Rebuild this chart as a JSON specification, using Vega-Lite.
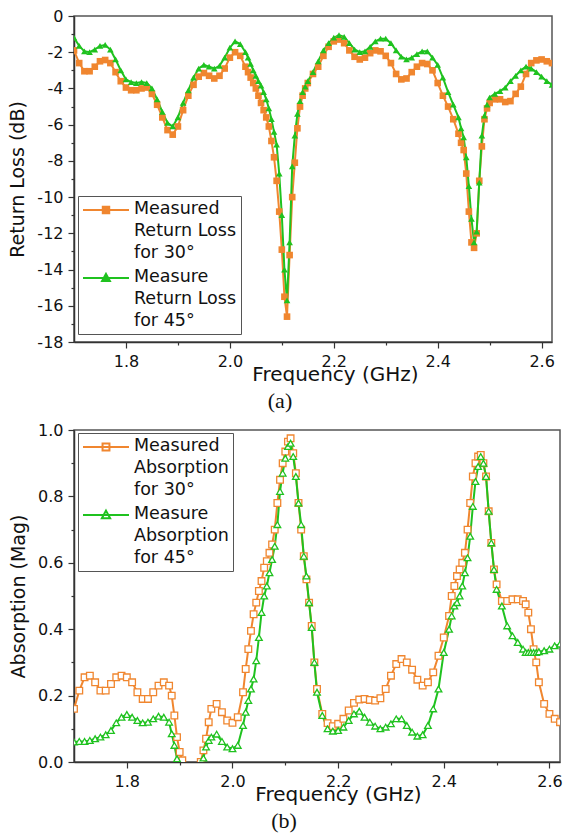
{
  "$schema": "https://vega.github.io/schema/vega-lite/v6.json",
  "padding": {"left": 8, "top": 7, "right": 5, "bottom": 5},
  "background": "white",
  "spacing": 8,
  "resolve": {"scale": {"color": "independent", "shape": "independent"}, "legend": {"color": "independent", "shape": "independent"}},
  "config": {
    "view": {"stroke": "#555", "strokeWidth": 1.5},
    "font": "DejaVu Sans",
    "axis": {
      "labelFont": "DejaVu Sans", "labelFontSize": 16, "labelColor": "#111",
      "titleFont": "DejaVu Sans", "titleFontWeight": "normal", "titleColor": "#111",
      "domainColor": "#333", "domainWidth": 1.5, "tickColor": "#333", "tickWidth": 1.2,
      "grid": false, "labelOverlap": false, "labelPadding": 5
    },
    "legend": {"labelFont": "DejaVu Sans", "labelFontSize": 17.5, "labelColor": "#111"},
    "title": {"font": "Liberation Serif", "fontSize": 22, "fontWeight": "normal", "color": "#111"}
  },
  "datasets": {
    "rl": [
      {"f":1.70,"a":-1.9,"b":-1.2},{"f":1.71,"a":-2.6,"b":-1.65},{"f":1.72,"a":-3.05,"b":-1.95},{"f":1.73,"a":-3.05,"b":-2.0},
      {"f":1.74,"a":-2.8,"b":-1.85},{"f":1.75,"a":-2.5,"b":-1.65},{"f":1.76,"a":-2.43,"b":-1.6},{"f":1.77,"a":-2.6,"b":-1.85},
      {"f":1.78,"a":-3.1,"b":-2.4},{"f":1.79,"a":-3.6,"b":-3.0},{"f":1.80,"a":-3.95,"b":-3.5},{"f":1.81,"a":-4.1,"b":-3.65},
      {"f":1.82,"a":-4.1,"b":-3.7},{"f":1.83,"a":-4.0,"b":-3.65},{"f":1.84,"a":-3.95,"b":-3.7},{"f":1.85,"a":-4.3,"b":-4.0},
      {"f":1.86,"a":-4.9,"b":-4.6},{"f":1.87,"a":-5.6,"b":-5.3},{"f":1.88,"a":-6.3,"b":-5.9},{"f":1.89,"a":-6.55,"b":-6.1},
      {"f":1.90,"a":-6.1,"b":-5.6},{"f":1.91,"a":-5.2,"b":-4.8},{"f":1.92,"a":-4.4,"b":-4.1},{"f":1.93,"a":-3.8,"b":-3.4},
      {"f":1.94,"a":-3.35,"b":-2.9},{"f":1.95,"a":-3.15,"b":-2.7},{"f":1.96,"a":-3.3,"b":-2.8},{"f":1.97,"a":-3.45,"b":-2.9},
      {"f":1.98,"a":-3.3,"b":-2.75},{"f":1.99,"a":-2.9,"b":-2.3},{"f":2.00,"a":-2.3,"b":-1.75},{"f":2.01,"a":-2.0,"b":-1.4},
      {"f":2.02,"a":-2.2,"b":-1.55},{"f":2.03,"a":-2.8,"b":-2.0},{"f":2.035,"a":-3.1,"b":-2.3},{"f":2.04,"a":-3.4,"b":-2.65},
      {"f":2.045,"a":-3.7,"b":-3.0},{"f":2.05,"a":-4.0,"b":-3.3},{"f":2.055,"a":-4.4,"b":-3.6},{"f":2.06,"a":-4.8,"b":-3.85},
      {"f":2.065,"a":-5.2,"b":-4.2},{"f":2.07,"a":-5.6,"b":-4.6},{"f":2.075,"a":-6.1,"b":-5.1},{"f":2.08,"a":-6.9,"b":-5.7},
      {"f":2.085,"a":-7.8,"b":-6.4},{"f":2.09,"a":-9.1,"b":-7.1},{"f":2.095,"a":-10.8,"b":-8.7},{"f":2.10,"a":-12.9,"b":-11.0},
      {"f":2.105,"a":-15.5,"b":-14.0},{"f":2.11,"a":-16.6,"b":-15.7},{"f":2.115,"a":-13.2,"b":-12.5},{"f":2.12,"a":-10.0,"b":-8.3},
      {"f":2.125,"a":-8.1,"b":-6.6},{"f":2.13,"a":-6.2,"b":-5.4},{"f":2.135,"a":-5.0,"b":-4.7},{"f":2.14,"a":-4.4,"b":-4.2},
      {"f":2.145,"a":-4.0,"b":-3.9},{"f":2.15,"a":-3.7,"b":-3.6},{"f":2.16,"a":-3.2,"b":-3.1},{"f":2.17,"a":-2.8,"b":-2.5},
      {"f":2.18,"a":-2.2,"b":-1.9},{"f":2.19,"a":-1.7,"b":-1.5},{"f":2.20,"a":-1.4,"b":-1.2},{"f":2.21,"a":-1.3,"b":-1.05},
      {"f":2.22,"a":-1.5,"b":-1.15},{"f":2.23,"a":-1.9,"b":-1.5},{"f":2.24,"a":-2.25,"b":-1.85},{"f":2.25,"a":-2.4,"b":-2.0},
      {"f":2.26,"a":-2.3,"b":-1.95},{"f":2.27,"a":-2.05,"b":-1.7},{"f":2.28,"a":-1.9,"b":-1.4},{"f":2.29,"a":-1.95,"b":-1.25},
      {"f":2.30,"a":-2.2,"b":-1.25},{"f":2.31,"a":-2.6,"b":-1.5},{"f":2.32,"a":-3.2,"b":-1.9},{"f":2.33,"a":-3.5,"b":-2.25},
      {"f":2.34,"a":-3.45,"b":-2.4},{"f":2.35,"a":-3.1,"b":-2.3},{"f":2.36,"a":-2.8,"b":-2.1},{"f":2.37,"a":-2.6,"b":-1.95},
      {"f":2.38,"a":-2.65,"b":-1.95},{"f":2.39,"a":-3.0,"b":-2.3},{"f":2.40,"a":-3.7,"b":-2.7},{"f":2.41,"a":-4.4,"b":-3.4},
      {"f":2.42,"a":-5.0,"b":-4.2},{"f":2.43,"a":-5.7,"b":-4.9},{"f":2.44,"a":-6.5,"b":-5.6},{"f":2.445,"a":-7.0,"b":-6.2},
      {"f":2.45,"a":-7.4,"b":-6.7},{"f":2.455,"a":-8.7,"b":-7.8},{"f":2.46,"a":-10.8,"b":-9.4},{"f":2.465,"a":-12.5,"b":-11.2},
      {"f":2.47,"a":-12.8,"b":-12.5},{"f":2.475,"a":-12.0,"b":-11.9},{"f":2.48,"a":-9.1,"b":-9.2},{"f":2.485,"a":-7.2,"b":-6.6},
      {"f":2.49,"a":-5.7,"b":-5.5},{"f":2.495,"a":-5.1,"b":-4.9},{"f":2.50,"a":-4.8,"b":-4.5},{"f":2.51,"a":-4.6,"b":-4.3},
      {"f":2.52,"a":-4.6,"b":-4.15},{"f":2.53,"a":-4.75,"b":-3.95},{"f":2.54,"a":-4.7,"b":-3.6},{"f":2.55,"a":-4.3,"b":-3.3},
      {"f":2.56,"a":-3.9,"b":-3.0},{"f":2.57,"a":-3.2,"b":-2.8},{"f":2.58,"a":-2.6,"b":-2.9},{"f":2.59,"a":-2.45,"b":-3.1},
      {"f":2.60,"a":-2.4,"b":-3.35},{"f":2.61,"a":-2.5,"b":-3.6},{"f":2.62,"a":-2.6,"b":-3.8}
    ],
    "ab": [
      {"f":1.70,"a":0.16,"b":0.06},{"f":1.71,"a":0.215,"b":0.062},{"f":1.72,"a":0.255,"b":0.062},{"f":1.73,"a":0.26,"b":0.065},
      {"f":1.74,"a":0.24,"b":0.07},{"f":1.75,"a":0.215,"b":0.075},{"f":1.76,"a":0.215,"b":0.082},{"f":1.77,"a":0.235,"b":0.095},
      {"f":1.78,"a":0.255,"b":0.118},{"f":1.79,"a":0.26,"b":0.135},{"f":1.80,"a":0.255,"b":0.143},{"f":1.81,"a":0.24,"b":0.135},
      {"f":1.82,"a":0.21,"b":0.125},{"f":1.83,"a":0.19,"b":0.118},{"f":1.84,"a":0.19,"b":0.12},{"f":1.85,"a":0.21,"b":0.13},
      {"f":1.86,"a":0.23,"b":0.138},{"f":1.87,"a":0.24,"b":0.135},{"f":1.88,"a":0.23,"b":0.12},{"f":1.885,"a":0.2,"b":0.085},
      {"f":1.89,"a":0.14,"b":0.05},{"f":1.895,"a":0.075,"b":0.01},{"f":1.90,"a":0.03,"b":-0.04},{"f":1.905,"a":0.005,"b":-0.07},
      {"f":1.91,"a":-0.05,"b":-0.1},{"f":1.92,"a":-0.1,"b":-0.12},{"f":1.93,"a":-0.08,"b":-0.12},{"f":1.94,"a":0.0,"b":-0.04},
      {"f":1.945,"a":0.035,"b":0.012},{"f":1.95,"a":0.07,"b":0.045},{"f":1.955,"a":0.12,"b":0.065},{"f":1.96,"a":0.16,"b":0.075},
      {"f":1.97,"a":0.175,"b":0.084},{"f":1.98,"a":0.15,"b":0.062},{"f":1.99,"a":0.125,"b":0.045},{"f":2.00,"a":0.118,"b":0.04},
      {"f":2.01,"a":0.135,"b":0.05},{"f":2.02,"a":0.21,"b":0.11},{"f":2.025,"a":0.28,"b":0.15},{"f":2.03,"a":0.34,"b":0.185},
      {"f":2.035,"a":0.395,"b":0.22},{"f":2.04,"a":0.445,"b":0.25},{"f":2.045,"a":0.48,"b":0.305},{"f":2.05,"a":0.515,"b":0.375},
      {"f":2.055,"a":0.545,"b":0.45},{"f":2.06,"a":0.585,"b":0.5},{"f":2.065,"a":0.605,"b":0.53},{"f":2.07,"a":0.63,"b":0.57},
      {"f":2.075,"a":0.655,"b":0.61},{"f":2.08,"a":0.7,"b":0.65},{"f":2.085,"a":0.78,"b":0.715},{"f":2.09,"a":0.85,"b":0.815},
      {"f":2.095,"a":0.9,"b":0.87},{"f":2.10,"a":0.935,"b":0.915},{"f":2.105,"a":0.965,"b":0.95},{"f":2.11,"a":0.975,"b":0.96},
      {"f":2.115,"a":0.93,"b":0.92},{"f":2.12,"a":0.87,"b":0.86},{"f":2.125,"a":0.78,"b":0.78},{"f":2.13,"a":0.7,"b":0.715},
      {"f":2.135,"a":0.62,"b":0.62},{"f":2.14,"a":0.55,"b":0.56},{"f":2.145,"a":0.48,"b":0.48},{"f":2.15,"a":0.41,"b":0.405},
      {"f":2.155,"a":0.3,"b":0.3},{"f":2.16,"a":0.22,"b":0.21},{"f":2.17,"a":0.145,"b":0.14},{"f":2.18,"a":0.117,"b":0.1},
      {"f":2.19,"a":0.108,"b":0.093},{"f":2.20,"a":0.115,"b":0.095},{"f":2.21,"a":0.13,"b":0.105},{"f":2.22,"a":0.155,"b":0.125},
      {"f":2.23,"a":0.178,"b":0.145},{"f":2.24,"a":0.188,"b":0.153},{"f":2.25,"a":0.19,"b":0.135},{"f":2.26,"a":0.187,"b":0.12},
      {"f":2.27,"a":0.185,"b":0.108},{"f":2.28,"a":0.192,"b":0.1},{"f":2.29,"a":0.22,"b":0.105},{"f":2.30,"a":0.26,"b":0.115},
      {"f":2.31,"a":0.295,"b":0.13},{"f":2.32,"a":0.31,"b":0.13},{"f":2.33,"a":0.3,"b":0.11},{"f":2.34,"a":0.278,"b":0.09},
      {"f":2.35,"a":0.248,"b":0.078},{"f":2.36,"a":0.23,"b":0.082},{"f":2.37,"a":0.24,"b":0.11},{"f":2.38,"a":0.27,"b":0.16},
      {"f":2.39,"a":0.32,"b":0.22},{"f":2.40,"a":0.375,"b":0.33},{"f":2.41,"a":0.44,"b":0.4},{"f":2.415,"a":0.5,"b":0.44},
      {"f":2.42,"a":0.53,"b":0.47},{"f":2.425,"a":0.56,"b":0.48},{"f":2.43,"a":0.58,"b":0.5},{"f":2.435,"a":0.6,"b":0.53},
      {"f":2.44,"a":0.63,"b":0.57},{"f":2.445,"a":0.7,"b":0.615},{"f":2.45,"a":0.78,"b":0.68},{"f":2.455,"a":0.86,"b":0.77},
      {"f":2.46,"a":0.9,"b":0.845},{"f":2.465,"a":0.92,"b":0.89},{"f":2.47,"a":0.925,"b":0.92},{"f":2.475,"a":0.9,"b":0.9},
      {"f":2.48,"a":0.86,"b":0.86},{"f":2.485,"a":0.755,"b":0.755},{"f":2.49,"a":0.66,"b":0.66},{"f":2.495,"a":0.58,"b":0.58},
      {"f":2.50,"a":0.535,"b":0.52},{"f":2.51,"a":0.485,"b":0.47},{"f":2.52,"a":0.485,"b":0.41},{"f":2.53,"a":0.49,"b":0.38},
      {"f":2.54,"a":0.49,"b":0.36},{"f":2.55,"a":0.485,"b":0.34},{"f":2.555,"a":0.475,"b":0.33},{"f":2.56,"a":0.45,"b":0.33},
      {"f":2.565,"a":0.4,"b":0.33},{"f":2.57,"a":0.34,"b":0.33},{"f":2.575,"a":0.3,"b":0.33},{"f":2.58,"a":0.24,"b":0.332},
      {"f":2.59,"a":0.175,"b":0.335},{"f":2.60,"a":0.145,"b":0.34},{"f":2.61,"a":0.13,"b":0.35},{"f":2.62,"a":0.12,"b":0.355}
    ]
  },
  "vconcat": [
    {
      "width": 478, "height": 326,
      "title": {"text": "(a)", "orient": "bottom", "anchor": "middle", "dx": -33, "offset": 7},
      "data": {"name": "rl"},
      "transform": [{"fold": ["a", "b"], "as": ["s", "v"]}],
      "encoding": {
        "x": {"field": "f", "type": "quantitative", "scale": {"domain": [1.7, 2.62], "nice": false, "zero": false},
          "axis": {"title": "Frequency (GHz)", "titleFontSize": 20, "titleX": 261, "titleY": 38, "titleBaseline": "alphabetic", "titleAnchor": null,
            "values": [1.8, 1.9, 2.0, 2.1, 2.2, 2.3, 2.4, 2.5, 2.6],
            "labelExpr": "abs(round(datum.value*10)) % 2 == 1 ? '' : format(datum.value, '.1f')",
            "tickSize": {"condition": {"test": "abs(round(datum.value*10)) % 2 == 1", "value": 3}, "value": 6}}},
        "y": {"field": "v", "type": "quantitative", "scale": {"domain": [-18, 0], "nice": false, "zero": false},
          "axis": {"title": "Return Loss (dB)", "titleFontSize": 19, "titlePadding": 9,
            "values": [-18, -17, -16, -15, -14, -13, -12, -11, -10, -9, -8, -7, -6, -5, -4, -3, -2, -1, 0],
            "labelExpr": "abs(datum.value % 2) == 1 ? '' : datum.value + ''",
            "tickSize": {"condition": {"test": "abs(datum.value % 2) == 1", "value": 3}, "value": 6}}},
        "color": {"field": "s", "type": "nominal", "scale": {"domain": ["a", "b"], "range": ["#F0862F", "#1FC21F"]},
          "legend": {"title": null, "orient": "none", "legendX": 4, "legendY": 180, "strokeColor": "#555", "fillColor": "white", "padding": 4,
            "symbolSize": 2116, "labelOffset": 4, "rowPadding": 6, "labelLimit": 0,
            "labelExpr": "datum.value == 'a' ? ['Measured', 'Return Loss', 'for 30°'] : ['Measure', 'Return Loss', 'for 45°']",
            "encode": {
              "symbols": {"update": {"shape": {"signal": "datum.value == 'a' ? 'M-1,0H1M-0.14,-0.14H0.14V0.14H-0.14Z' : 'M-1,0H1M0,-0.18L0.17,0.13H-0.17Z'"}, "strokeWidth": {"value": 2}, "y": {"value": 10}}},
              "labels": {"update": {"lineHeight": {"value": 22}, "baseline": {"value": "top"}, "y": {"value": 0}}}
            }}}
      },
      "layer": [
        {"mark": {"type": "line", "strokeWidth": 2, "clip": true}},
        {"mark": {"type": "point", "filled": true, "opacity": 1, "size": 44, "clip": true},
          "encoding": {
            "shape": {"field": "s", "type": "nominal", "scale": {"domain": ["b", "a"], "range": ["triangle-up", "square"]}, "legend": null},
            "order": {"field": "s"}
          }}
      ]
    },
    {
      "width": 486, "height": 332,
      "title": {"text": "(b)", "orient": "bottom", "anchor": "middle", "dx": -33, "offset": 7},
      "data": {"name": "ab"},
      "transform": [{"fold": ["a", "b"], "as": ["s", "v"]}],
      "encoding": {
        "x": {"field": "f", "type": "quantitative", "scale": {"domain": [1.7, 2.62], "nice": false, "zero": false},
          "axis": {"title": "Frequency (GHz)", "titleFontSize": 20, "titleX": 264, "titleY": 38, "titleBaseline": "alphabetic", "titleAnchor": null,
            "values": [1.8, 1.9, 2.0, 2.1, 2.2, 2.3, 2.4, 2.5, 2.6],
            "labelExpr": "abs(round(datum.value*10)) % 2 == 1 ? '' : format(datum.value, '.1f')",
            "tickSize": {"condition": {"test": "abs(round(datum.value*10)) % 2 == 1", "value": 3}, "value": 6}}},
        "y": {"field": "v", "type": "quantitative", "scale": {"domain": [0, 1], "nice": false},
          "axis": {"title": "Absorption (Mag)", "titleFontSize": 19, "titlePadding": 9,
            "values": [0, 0.1, 0.2, 0.3, 0.4, 0.5, 0.6, 0.7, 0.8, 0.9, 1.0],
            "labelExpr": "abs(round(datum.value*10)) % 2 == 1 ? '' : format(datum.value, '.1f')",
            "tickSize": {"condition": {"test": "abs(round(datum.value*10)) % 2 == 1", "value": 3}, "value": 6}}},
        "color": {"field": "s", "type": "nominal", "scale": {"domain": ["a", "b"], "range": ["#F0862F", "#1FC21F"]},
          "legend": {"title": null, "orient": "none", "legendX": 4, "legendY": 3, "strokeColor": "#555", "fillColor": "white", "padding": 4,
            "symbolSize": 2116, "labelOffset": 4, "rowPadding": 6, "labelLimit": 0,
            "labelExpr": "datum.value == 'a' ? ['Measured', 'Absorption', 'for 30°'] : ['Measure', 'Absorption', 'for 45°']",
            "encode": {
              "symbols": {"update": {"shape": {"signal": "datum.value == 'a' ? 'M-1,0H1M-0.15,-0.15H0.15V0.15H-0.15Z' : 'M-1,0H1M0,-0.19L0.18,0.14H-0.18Z'"}, "strokeWidth": {"value": 2}, "fill": {"value": "white"}, "y": {"value": 10}}},
              "labels": {"update": {"lineHeight": {"value": 22}, "baseline": {"value": "top"}, "y": {"value": 0}}}
            }}}
      },
      "layer": [
        {"mark": {"type": "line", "strokeWidth": 2, "clip": true}},
        {"mark": {"type": "point", "filled": false, "fill": "white", "fillOpacity": 1, "opacity": 1, "strokeWidth": 1.3, "size": 44, "clip": true},
          "encoding": {
            "shape": {"field": "s", "type": "nominal", "scale": {"domain": ["b", "a"], "range": ["triangle-up", "square"]}, "legend": null},
            "order": {"field": "s"}
          }}
      ]
    }
  ]
}
